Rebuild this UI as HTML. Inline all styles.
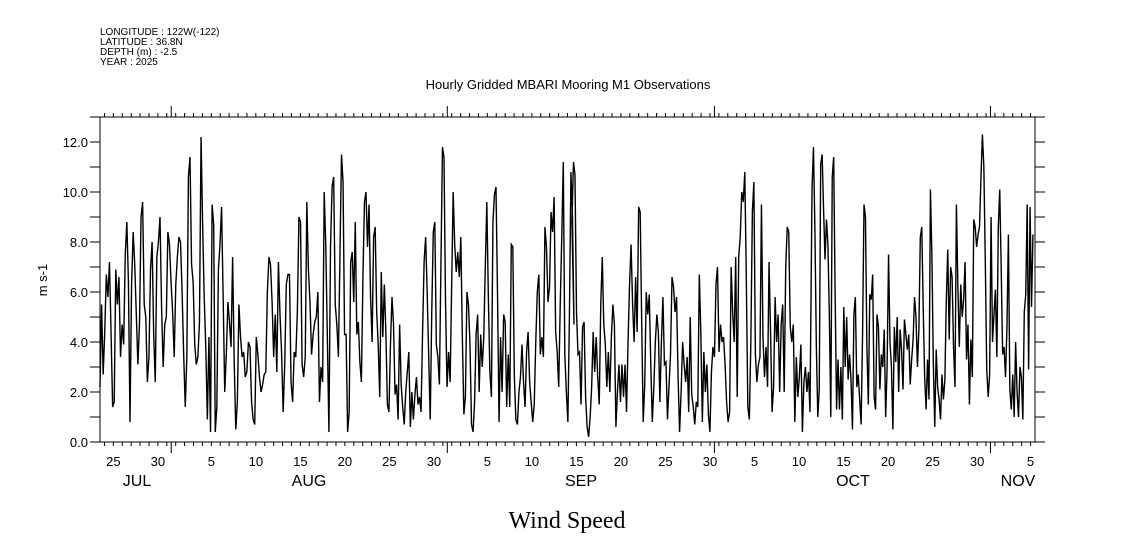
<!DOCTYPE html>
<html><head><meta charset="utf-8"><style>
html,body{margin:0;padding:0;background:#fff;width:1121px;height:560px;overflow:hidden}
svg text{font-family:"Liberation Sans",sans-serif;fill:#000}
</style></head><body>
<svg id="chart" width="1121" height="560" viewBox="0 0 1121 560" xmlns="http://www.w3.org/2000/svg">
<g font-size="10">
<text x="100" y="35">LONGITUDE : 122W(-122)</text>
<text x="100" y="45">LATITUDE : 36.8N</text>
<text x="100" y="55">DEPTH (m) : -2.5</text>
<text x="100" y="65">YEAR : 2025</text>
</g>
<text x="568" y="89" text-anchor="middle" font-size="13">Hourly Gridded MBARI Mooring M1 Observations</text>
<text x="567" y="528" text-anchor="middle" font-size="24" style="font-family:'Liberation Serif',serif">Wind Speed</text>
<text transform="translate(47,280) rotate(-90)" text-anchor="middle" font-size="13">m s-1</text>
<g id="axes"></g>
<g id="series"></g>
</svg>
<script>
// time spans (days since Jul 24 00:00) of each hand-read segment
const segStart = [0.0, 26.95, 53.0, 79.96];
const segEnd = [26.95, 53.23, 79.73, 104.77];
const seg1 = [2.2,5.5,2.7,4.4,6.7,5.8,7.2,4.4,1.4,1.6,6.9,5.5,6.6,3.4,4.7,3.9,7.5,8.8,6.4,0.8,6.3,8.4,7.1,5.1,3.1,4.7,9.0,9.6,5.5,5.0,2.4,3.4,6.9,8.0,4.3,2.4,7.4,8.0,9.0,5.4,3.0,4.7,5.0,8.4,7.9,6.4,5.2,3.4,6.3,7.4,8.2,8.0,6.0,3.5,1.4,3.4,10.6,11.4,7.1,6.4,3.9,3.1,3.4,4.8,12.2,8.7,5.8,3.8,0.9,4.2,0.4,9.5,8.7,0.4,1.4,6.9,7.9,9.4,5.8,2.0,3.5,5.6,4.8,3.8,7.4,3.2,0.5,1.6,5.5,4.2,3.4,3.6,2.6,2.8,4.0,3.8,1.6,0.9,0.7,4.2,3.5,2.6,2.0,2.3,2.7,2.8,6.0,7.4,7.1,5.6,3.4,5.1,2.8,7.2,5.1,3.6,1.2,3.1,6.3,6.7,6.7,2.4,1.6,3.6,3.4,5.2,9.0,8.8,3.1,2.6,3.4,9.6,6.9,5.6,3.5,4.3,4.8,5.0,6.0,1.6,3.0,2.4,10.0,7.9,4.2,0.4,7.8,10.2,10.6,5.5,4.7,3.4,7.5];
const seg2 = [7.6,11.5,10.4,4.3,4.3,0.4,1.2,7.2,7.6,5.6,8.8,4.3,4.8,3.2,2.4,6.6,9.6,10.0,7.8,9.5,5.8,4.0,8.2,8.6,5.2,3.9,1.8,6.8,4.2,6.3,4.4,1.5,1.2,3.9,5.8,4.7,1.9,2.3,0.9,4.7,2.3,1.4,0.7,2.0,2.8,3.6,0.6,2.0,0.9,1.9,2.6,1.5,1.8,1.2,4.4,7.2,8.2,6.0,3.4,0.9,5.2,8.4,8.8,3.9,3.4,2.3,7.1,11.8,11.4,5.6,2.2,3.6,2.4,6.2,10.0,7.9,6.8,7.6,6.6,8.2,4.2,1.1,1.8,6.0,5.5,3.9,0.7,0.4,1.6,4.3,5.1,2.0,4.3,3.0,4.2,7.0,9.6,5.8,2.8,1.8,8.8,9.9,10.2,5.9,0.8,4.2,2.0,5.1,4.8,1.4,3.5,1.4,7.9,7.8,2.6,0.9,0.7,2.0,2.6,3.9,2.4,1.4,3.6,4.4,2.4,1.6,0.8,1.5,4.0,6.0,6.7,3.5,4.2,3.4,8.6,7.8,5.6,6.2,9.2,8.4,9.8,4.4,3.6,2.2,5.5,8.2,11.2,3.5,2.0,0.8,5.0,10.8,9.0,4.7];
const seg3 = [8.8,11.2,10.7,5.2,3.5,3.6,1.5,4.6,4.8,1.8,0.6,0.2,1.0,2.2,4.4,2.8,4.2,2.6,1.5,5.5,7.4,4.7,3.9,2.2,3.6,2.0,4.2,5.5,4.7,0.6,2.0,3.1,1.6,3.1,1.8,3.1,1.2,4.0,6.3,7.9,5.5,4.0,6.6,4.4,9.4,9.2,4.8,0.8,2.3,6.0,5.1,5.9,3.1,0.8,2.2,4.0,5.1,4.4,1.6,4.0,5.8,3.1,3.2,0.9,2.2,3.5,6.6,6.2,5.2,5.8,2.6,0.4,2.0,4.0,3.1,2.4,3.4,1.2,5.0,1.9,1.4,0.7,1.6,1.4,6.7,4.4,0.8,3.6,2.0,3.1,1.1,0.4,2.8,3.8,3.4,6.3,7.0,3.6,4.7,4.0,4.2,3.1,1.6,0.8,1.2,7.0,5.2,4.0,7.4,1.8,7.4,8.2,10.0,9.6,10.8,6.6,1.4,0.9,4.0,9.2,10.4,3.5,2.4,3.1,3.4,9.5,4.2,2.6,3.8,2.2,7.2,4.4,1.2,2.2,5.8,4.0,5.1,2.0,4.7,5.5,2.0,7.0,8.6,8.4,4.6,4.0,4.7,0.8,3.4,1.8,2.6,3.9,0.4,2.4,3.0,2.0,2.8,1.2];
const seg4 = [10.1,11.8,8.5,3.8,1.0,2.1,11.1,11.5,9.3,7.3,8.9,7.9,5.1,1.0,10.6,11.4,5.9,1.3,3.3,1.3,3.0,0.9,5.4,3.0,5.0,2.5,3.5,2.5,0.5,5.1,5.8,2.2,2.7,1.7,0.7,4.3,9.5,9.0,3.8,1.5,5.9,5.7,6.7,1.8,1.3,5.1,4.6,2.1,3.5,3.0,4.5,1.0,3.0,7.5,4.0,3.0,0.5,4.6,3.2,5.0,2.0,4.5,3.7,2.1,4.9,4.3,3.7,4.3,2.3,3.3,4.1,5.8,5.0,3.0,4.5,8.2,8.6,5.4,2.6,1.3,3.3,1.7,10.1,7.5,3.2,0.6,3.7,2.2,1.7,0.9,2.7,1.7,2.5,5.7,7.7,4.1,7.0,6.6,3.8,2.2,9.5,6.2,3.8,6.3,5.0,5.7,7.2,3.3,4.7,1.5,4.1,2.6,8.9,8.6,7.8,8.3,8.6,10.6,12.3,11.0,7.2,2.9,1.8,2.7,9.0,4.0,5.1,6.1,3.4,8.6,10.1,7.0,3.5,3.8,2.6,4.6,8.3,2.1,1.3,2.7,1.0,4.0,2.0,1.0,3.0,2.6,0.9,5.2,5.9,9.5,2.9,9.4,5.4,8.3];
const segments = [seg1, seg2, seg3, seg4];
const yTicks = [0, 2, 4, 6, 8, 10, 12];
const yTickLabels = ["0.0","2.0","4.0","6.0","8.0","10.0","12.0"];
const dayLabels = ["25","30","5","10","15","20","25","30","5","10","15","20","25","30","5","10","15","20","25","30","5"];
const dayLabelDays = [1,6,12,17,22,27,32,37,43,48,53,58,63,68,73,78,83,88,93,98,104];
const monthStartDays = [8, 39, 69, 100];
const monthNames = ["JUL","AUG","SEP","OCT","NOV"];
const monthLabelX = [137, 309, 581, 853, 1018];
const totalDays = 105;

const NS = "http://www.w3.org/2000/svg";
const X0 = 100, X1 = 1035, Y0 = 442, Y1 = 117;
const xS = d => X0 + d * (X1 - X0) / totalDays;
const yS = v => Y0 - v * 25;
function mk(tag, attrs, parent) {
  const e = document.createElementNS(NS, tag);
  for (const k in attrs) e.setAttribute(k, attrs[k]);
  parent.appendChild(e); return e;
}
const axes = document.getElementById('axes');
let frame = mk('path', {d:`M${X0},${Y1}V${Y0}M${X1},${Y1}V${Y0}M90,${Y1}H1045M90,${Y0}H1045`, stroke:'#000', 'stroke-width':1, fill:'none'}, axes);


let td = '';
for (let v = 0; v <= 12; v++) { td += `M90,${yS(v)}H${X0}M${X1},${yS(v)}H1045`; }
for (let d = 0; d < totalDays; d++) { const x = xS(d + 0.5); td += `M${x},${Y0}V446M${x},${Y1}V113`; }
monthStartDays.forEach(d => { const x = xS(d); td += `M${x},${Y0}V453M${x},${Y1}V106`; });
let ticks = mk('path', {d: td, stroke:'#000', 'stroke-width':1, fill:'none'}, axes);


yTicks.forEach((v, i) => {
  const t = mk('text', {x: 88, y: yS(v) + 5, 'text-anchor':'end', 'font-size':13}, axes);
  
  
  t.textContent = yTickLabels[i];
});
dayLabels.forEach((s, i) => {
  const d = dayLabelDays[i];
  const t = mk('text', {x: xS(d + 0.5), y: 466, 'text-anchor':'middle', 'font-size':13}, axes);
  
  
  t.textContent = s;
});
monthNames.forEach((m, i) => {
  const t = mk('text', {x: monthLabelX[i], y: 486, 'text-anchor':'middle', 'font-size':16}, axes);
  
  
  t.textContent = m;
});
let pd = '';
segments.forEach((arr, s) => {
  const n = arr.length;
  arr.forEach((v, i) => {
    const d = segStart[s] + (segEnd[s] - segStart[s]) * i / (n - 1);
    pd += (pd ? 'L' : 'M') + xS(d).toFixed(2) + ',' + yS(v).toFixed(2);
  });
});
const line = mk('path', {d: pd, stroke:'#000', 'stroke-width':1.4, fill:'none'}, document.getElementById('series'));


</script>
</body></html>
